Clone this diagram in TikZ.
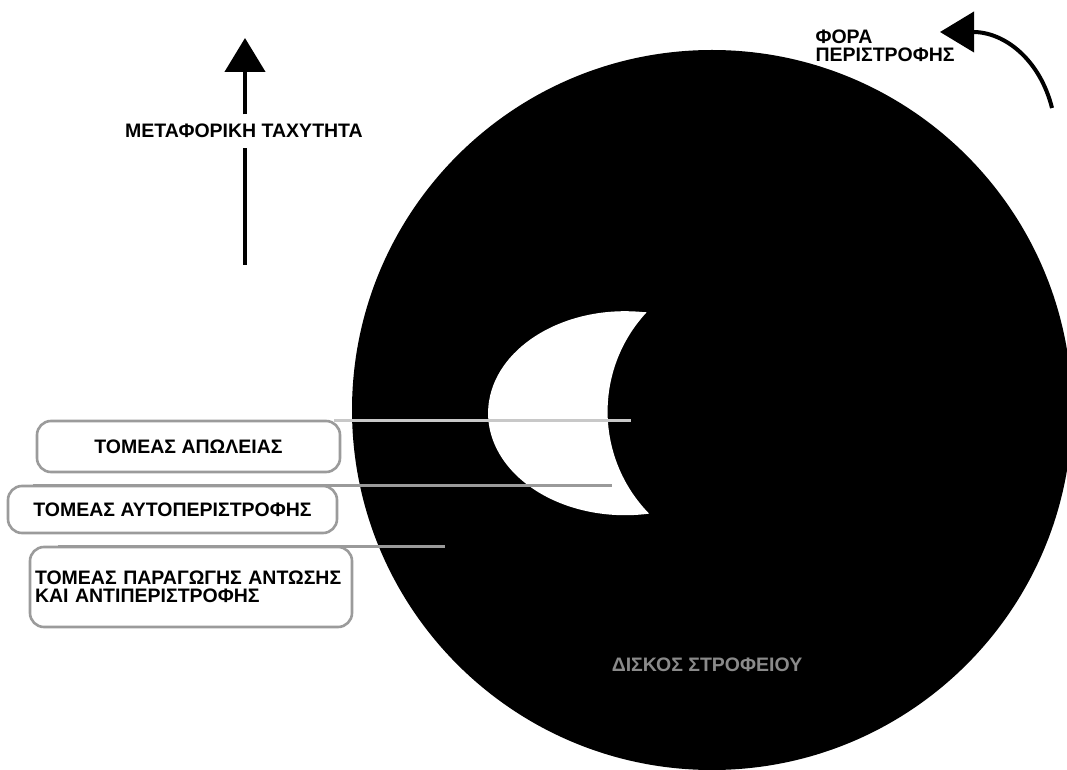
\documentclass[tikz,border=0pt]{standalone}
\usepackage{fontspec}
\setmainfont{Liberation Sans}
\usepackage{xcolor}
\usetikzlibrary{positioning, arrows.meta, calc}
\definecolor{framegray}{HTML}{9B9B9B}
\definecolor{paleline}{HTML}{C8C8C8}
\definecolor{midline}{HTML}{9A9A9A}
\definecolor{labelgray}{HTML}{8A8A8A}

\begin{document}
\begin{tikzpicture}[x=1pt, y=1pt,
    greektext/.style={font=\fontsize{19.5}{18.5}\selectfont\bfseries},
    sector/.style={greektext, draw=framegray, line width=2.6pt, rounded corners=14pt, fill=white, outer sep=0pt},
    leader/.style={line width=3pt},
    bigarrow/.style={line width=4.5pt, -{Triangle[length=34pt, width=40pt]}}]
  \useasboundingbox (0,0) rectangle (1067,769);
  % disc with the crescent
  \fill[black] (712,359) circle[radius=360];
  \node[greektext, text=labelgray] (disc) at (707,104) {ΔΙΣΚΟΣ ΣΤΡΟΦΕΙΟΥ};
  \fill[white] (642,457) arc[start angle=82.9, end angle=280.1, x radius=137, y radius=102]
    arc[start angle=224.3, end angle=137.1, radius=146] -- cycle;
  % sectors
  \node[sector, minimum width=303, minimum height=51] (loss) at (188.5,322.5) {ΤΟΜΕΑΣ ΑΠΩΛΕΙΑΣ};
  \node[sector, minimum width=329, minimum height=47] (spin) at (172.5,259.5) {ΤΟΜΕΑΣ ΑΥΤΟΠΕΡΙΣΤΡΟΦΗΣ};
  \node[sector, minimum width=322, minimum height=80, align=left, text width=312] (thrust) at (191,182)
    {ΤΟΜΕΑΣ ΠΑΡΑΓΩΓΗΣ ΑΝΤΩΣΗΣ\\ΚΑΙ ΑΝΤΙΠΕΡΙΣΤΡΟΦΗΣ};
  \coordinate (lossend) at (631,348);
  \coordinate (spinend) at (612,284);
  \coordinate (thrustend) at (445,223);
  \draw[leader, paleline] ([xshift=-6pt]loss.north east) -- (lossend);
  \draw[leader, midline] ([xshift=25pt, yshift=1pt]spin.north west) -- (spinend);
  \draw[leader, midline] ([xshift=28pt, yshift=1pt]thrust.north west) -- (thrustend);
  % translational speed
  \node[greektext, inner ysep=9.5pt] (speed) at (244,638) {ΜΕΤΑΦΟΡΙΚΗ ΤΑΧΥΤΗΤΑ};
  \coordinate (speedfoot) at (245,504);
  \coordinate (speedtip) at (245,731);
  \draw[line width=4.5pt] (speedfoot) -- (speed.south -| speedfoot);
  \draw[bigarrow] (speed.north -| speedfoot) -- (speedtip);
  % sense of rotation
  \node[greektext, align=left, anchor=west] (sense) at (812,723) {ΦΟΡΑ\\ΠΕΡΙΣΤΡΟΦΗΣ};
  \coordinate (sensefoot) at (1052,661);
  \coordinate (sensetip) at (940,737);
  \draw[bigarrow, line width=4pt] (sensefoot) .. controls (1040,709) and (1005,737) .. (sensetip);
\end{tikzpicture}
\end{document}
